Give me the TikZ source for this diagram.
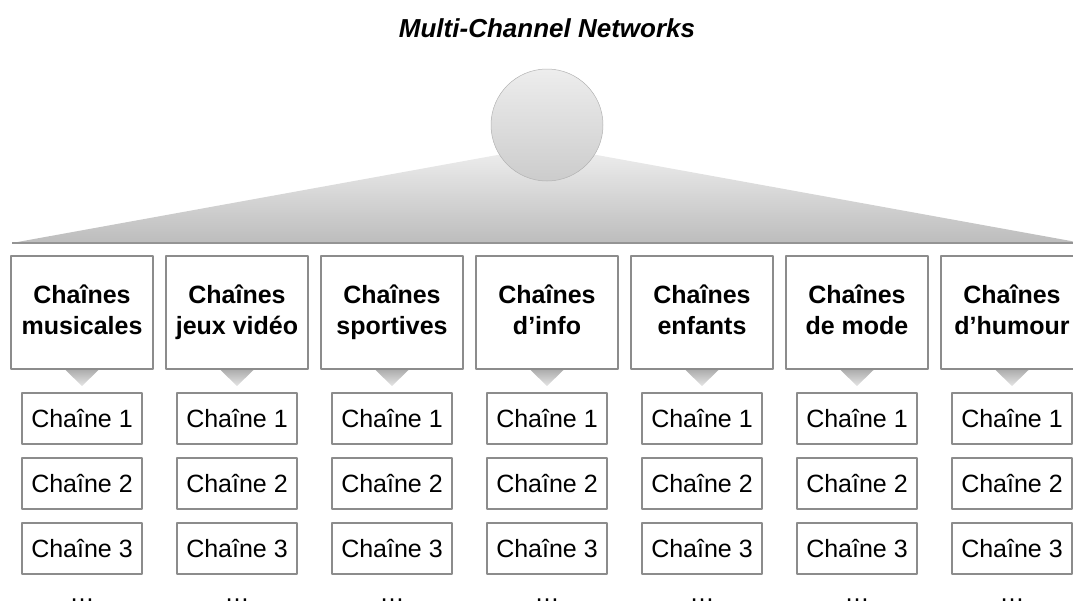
\documentclass[tikz,border=0pt]{standalone}
\usepackage{fontspec}
\setmainfont{Liberation Sans}
\usetikzlibrary{positioning}
\definecolor{boxline}{HTML}{8C8C8C}
\tikzset{every text node part/.style={align=center}}
\tikzset{
	catbox/.style={draw=boxline, line width=2pt, fill=white, minimum width=142pt, minimum height=113pt, inner sep=0pt, font=\fontsize{25}{31}\selectfont\bfseries},
	chanbox/.style={draw=boxline, line width=2pt, fill=white, minimum width=120pt, minimum height=51pt, inner sep=0pt, font=\fontsize{25}{30}\selectfont}
}
\newcommand{\pointer}[1]{%
	\shade[top color=black!32, bottom color=black!10] (#1.south) ++(-16.5,0) -- ++(33,0) -- ++(-16.5,16) -- cycle;
}

\begin{document}
\begin{tikzpicture}[x=1pt, y=-1pt, line join=round]
	\useasboundingbox (0,0) rectangle (1073,605);
	\clip (0,0) rectangle (1073,605);
	
	% Title
	\node[font=\fontsize{26}{30}\selectfont\bfseries\itshape] (title) at (547,28) {Multi-Channel Networks};
	
	% Fan below the hub
	\shade[top color=black!6, bottom color=black!26] (12,243) -- (547,146) -- (1082,243) -- cycle;
	\draw[black!42, line width=1.5pt] (12,243) -- (1082,243);
	
	% Hub
	\node[circle, minimum size=112pt, top color=black!7, bottom color=black!20, draw=black!30, line width=0.5pt] (hub) at (547,125) {};
	
	% Categories and their channels
	\foreach \i/\lbl in {1/musicales, 2/jeux vidéo, 3/sportives, 4/d’info, 5/enfants, 6/de mode, 7/d’humour}
	{
		\pgfmathsetmacro{\x}{82+155*(\i-1)}
		\node[catbox] (cat\i) at (\x,312.5) {\strut Chaînes\\\strut\lbl};
		
		\node[chanbox, below=22pt of cat\i] (ch\i-1) {Chaîne 1};
		\node[chanbox, below=12pt of ch\i-1] (ch\i-2) {Chaîne 2};
		\node[chanbox, below=12pt of ch\i-2] (ch\i-3) {Chaîne 3};
		
		\pointer{cat\i}
		
		\node[anchor=base, inner sep=0pt, text depth=0pt, font=\fontsize{25}{30}\selectfont] (dots\i) at (\x,601) {…};
	}
\end{tikzpicture}
\end{document}
